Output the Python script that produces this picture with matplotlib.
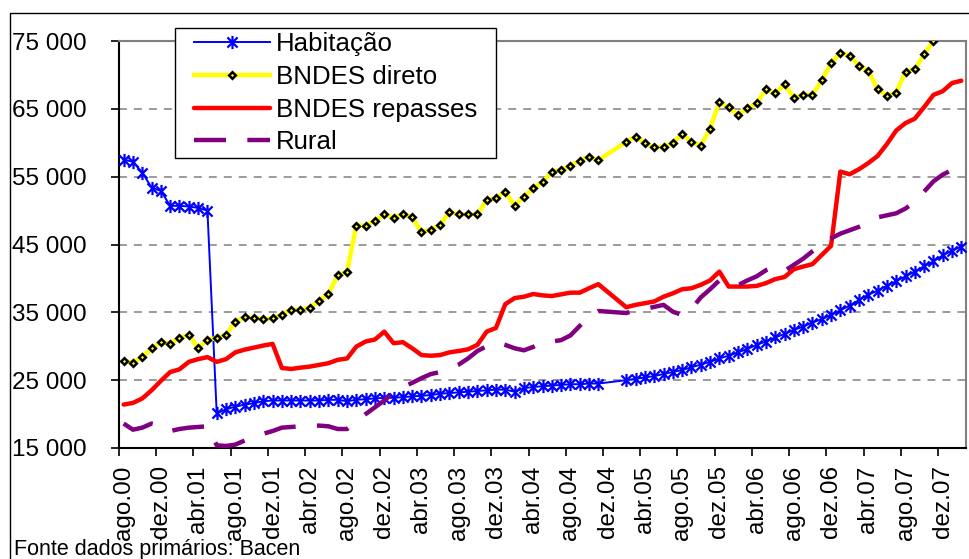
import matplotlib
matplotlib.use('Agg')
import matplotlib.pyplot as plt
from matplotlib.path import Path
from matplotlib.patches import Rectangle
import numpy as np

plt.rcParams['font.family'] = ['Liberation Sans', 'DejaVu Sans']

# ---------------- data (monthly, ago.00 ... fev.08) ----------------
habitacao = [
    57500, 57200, 55600, 53400, 52900, 50700, 50700, 50600, 50400, 50000,
    20100, 20700, 21100, 21400, 21600, 21900, 22000, 22000, 22000, 22000,
    22000, 22000, 22100, 22100, 21900, 22100, 22200, 22300, 22400, 22400,
    22500, 22600, 22700, 22800, 23000, 23100, 23200, 23300, 23400, 23500,
    23600, 23600, 23300, 23800, 24000, 24100, 24200, 24300, 24400, 24400,
    24500, 24500, None, None, 25000, 25200, 25400, 25600, 25900, 26200,
    26500, 26900, 27300, 27700, 28200, 28600, 29100, 29600, 30200, 30700,
    31300, 31800, 32400, 32900, 33500, 34000, 34600, 35300, 36000, 36800,
    37600, 38200, 38900, 39600, 40300, 41000, 41800, 42500, 43400, 44100,
    44700]

bndes_direto = [
    27800, 27600, 28400, 29700, 30600, 30400, 31200, 31700, 29700, 30950,
    31200, 31700, 33600, 34300, 34200, 34000, 34100, 34650, 35400, 35400,
    35700, 36700, 37700, 40500, 41000, 47800, 47800, 48500, 49450, 48950,
    49450, 49000, 46800, 47200, 47850, 49800, 49450, 49450, 49450, 51550,
    51800, 52800, 50700, 52050, 53300, 54200, 55700, 56000, 56600, 57350,
    57950, 57450, None, None, 60150, 60900, 60000, 59300, 59400, 60000,
    61300, 60150, 59550, 62100, 66000, 65200, 64100, 65050, 65800, 67900,
    67300, 68600, 66650, 67050, 67050, 69250, 71700, 73300, 72850, 71300,
    70600, 67900, 66950, 67400, 70500, 70850, 73050, 75000, 78500, 79500,
    80500]

bndes_repasses = [
    21400, 21650, 22300, 23500, 24900, 26200, 26600, 27700, 28100, 28400,
    27700, 28100, 29100, 29500, 29800, 30100, 30350, 26800, 26650, 26850,
    27000, 27250, 27500, 28000, 28200, 29950, 30700, 31000, 32150, 30450,
    30600, 29700, 28700, 28600, 28700, 29100, 29300, 29550, 30200, 32150,
    32700, 36200, 37100, 37300, 37700, 37500, 37400, 37650, 37900, 37900,
    38550, 39150, None, None, 35750, 36100, 36350, 36600, 37300, 37800,
    38400, 38550, 39050, 39700, 41000, 38800, 38800, 38800, 38900, 39300,
    39900, 40200, 41350, 41750, 42100, 43450, 44800, 55750, 55350, 56100,
    57000, 58050, 59800, 61800, 62900, 63550, 65250, 67050, 67600, 68800,
    69150]

rural = [
    18600, 17700, 18000, 18600, 18300, 17500, 17800, 18000, 18100, 18200,
    15400, 15300, 15500, 16100, 16700, 17100, 17500, 18000, 18100, 18200,
    18300, 18300, 18200, 17800, 17800, 18900, 20000, 21000, 22000, 23200,
    24000, 24600, 25300, 25900, 26200, 26800, 27300, 28200, 29300, 30000,
    30600, 30200, 29700, 29400, 29900, 30600, 30700, 30900, 31600, 33000,
    34400, 35200, None, None, 34900, 35300, 35500, 35800, 36100, 35100,
    34600, 35500, 37200, 38400, 39700, 39300, 39000, 39700, 40300, 41200,
    41700, 41100, 42000, 42900, 44000, 45000, 45900, 46600, 47100, 47600,
    48200, 49000, 49300, 49600, 50300, 51300, 52800, 54300, 55300, 56000,
    56600]

xtick_labels = ['ago.00', 'dez.00', 'abr.01', 'ago.01', 'dez.01', 'abr.02',
                'ago.02', 'dez.02', 'abr.03', 'ago.03', 'dez.03', 'abr.04',
                'ago.04', 'dez.04', 'abr.05', 'ago.05', 'dez.05', 'abr.06',
                'ago.06', 'dez.06', 'abr.07', 'ago.07', 'dez.07']
ytick_values = [15000, 25000, 35000, 45000, 55000, 65000, 75000]
ytick_labels = ['15 000', '25 000', '35 000', '45 000', '55 000', '65 000', '75 000']
series_names = ['Habitação', 'BNDES direto', 'BNDES repasses', 'Rural']
source_note = 'Fonte dados primários: Bacen'


def valid(seq):
    xs = [i for i, v in enumerate(seq) if v is not None]
    ys = [v for v in seq if v is not None]
    return xs, ys


# ---------------- figure ----------------
W, H = 970, 559
fig = plt.figure(figsize=(W / 100, H / 100), dpi=100)
fig.patch.set_facecolor('white')

L, R, T, B = 119, 966, 41, 448
ax = fig.add_axes([L / W, 1 - B / H, (R - L) / W, (B - T) / H])

asterisk = Path([(-1, -1), (1, 1), (-1, 1), (1, -1), (0, -1.3), (0, 1.3)],
                [Path.MOVETO, Path.LINETO, Path.MOVETO, Path.LINETO,
                 Path.MOVETO, Path.LINETO])

hx, hy = valid(habitacao)
l1, = ax.plot(hx, hy, color='#0000FF', lw=1.4, marker=asterisk, markersize=9.5,
              markeredgewidth=1.6, markeredgecolor='#0000FF', zorder=3)
dx, dy = valid(bndes_direto)
l2, = ax.plot(dx, dy, color='#FFFF00', lw=3.2, marker='D', markersize=3.4,
              markerfacecolor='#FFFF00', markeredgecolor='black',
              markeredgewidth=1.8, zorder=4)
rx, ry = valid(bndes_repasses)
l3, = ax.plot(rx, ry, color='#FF0000', lw=3.2, solid_capstyle='round',
              solid_joinstyle='round', zorder=5)
ux, uy = valid(rural)
l4, = ax.plot(ux, uy, color='#800080', lw=3.2, dashes=(7.2, 4.8),
              dash_capstyle='butt', zorder=6)

ax.set_xlim(-0.5, len(habitacao) - 0.5)
ax.set_ylim(ytick_values[0], ytick_values[-1])

# y axis
ax.set_yticks(ytick_values)
ax.set_yticklabels(ytick_labels)
ax.tick_params(axis='y', direction='out', length=5.8, width=1.2,
               pad=17.5, labelsize=17.5, colors='black')

# x axis: tick marks at category boundaries, labels at categories
label_pos = [4 * k for k in range(len(xtick_labels))]
ax.set_xticks([p - 0.5 for p in label_pos])
ax.set_xticklabels([])
ax.tick_params(axis='x', which='major', direction='out', length=5.5, width=1.2)
ax.set_xticks(label_pos, minor=True)
ax.set_xticklabels(xtick_labels, minor=True, rotation=90, fontsize=17.5,
                   va='top', ha='center')
ax.tick_params(axis='x', which='minor', length=0, pad=12.5)

# grid
ax.yaxis.grid(True, color='#808080', lw=1.1, linestyle=(0, (5.2, 4.6)))
ax.set_axisbelow(True)

for s in ['left', 'bottom']:
    ax.spines[s].set_color('black')
    ax.spines[s].set_linewidth(1.5)
for s in ['top', 'right']:
    ax.spines[s].set_color('#808080')
    ax.spines[s].set_linewidth(1.5)

# legend: explicit frame + frameless legend content
frame = Rectangle((175 / W, 1 - 158 / H), (496 - 175) / W, (158 - 28) / H,
                  transform=fig.transFigure, facecolor='white',
                  edgecolor='black', lw=1.0, zorder=9, clip_on=False)
ax.add_patch(frame)
leg = ax.legend([l1, l2, l3, l4], series_names, loc='upper left',
                bbox_to_anchor=(194 / W, 1 - 32.5 / H), bbox_transform=fig.transFigure,
                borderaxespad=0, frameon=False, fontsize=18.6, handlelength=2.95,
                handletextpad=0.22, labelspacing=0.335, borderpad=0.0,
                numpoints=1)
leg.set_zorder(10)

# outer chart border and source note
fig.patches.append(Rectangle((10 / W, -0.1), 1.2, 1 - 12.5 / H + 0.1,
                             transform=fig.transFigure, fill=False,
                             edgecolor='black', lw=1.0))
fig.text(14.5 / W, 1 - 555 / H, source_note, fontsize=15.5,
         ha='left', va='baseline')

fig.savefig('out.png', dpi=100)
